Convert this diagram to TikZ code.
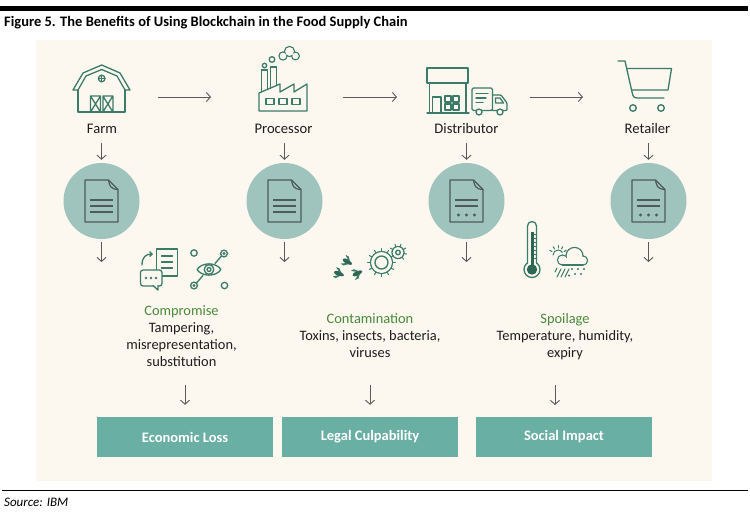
\documentclass[tikz,border=0pt]{standalone}
\usepackage{fontspec}
\setmainfont{Carlito}
\usetikzlibrary{arrows.meta}
\definecolor{bgc}{HTML}{FCF7EF}
\definecolor{icc}{HTML}{3C7A6A}
\definecolor{icdark}{HTML}{2C6655}
\definecolor{circc}{HTML}{9FC4BD}
\definecolor{docc}{HTML}{4E5B58}
\definecolor{boxc}{HTML}{6AAFA4}
\definecolor{grn}{HTML}{4A8A3A}
\definecolor{arrc}{HTML}{5A5A5A}
\definecolor{txt}{HTML}{1E1E1E}
\tikzset{
  arr/.style={draw=arrc, line width=0.9pt, -{Straight Barb[length=4pt,width=9pt]}},
  ic/.style={draw=icc, line width=1.3pt, line join=round, line cap=round},
  dl/.style={draw=docc, line width=1.2pt, line join=round},
  lbl/.style={font=\fontsize{14.6}{17}\selectfont, text=txt, inner sep=0pt, anchor=base},
  mid/.style={font=\fontsize{14.4}{17}\selectfont, text=txt, inner sep=0pt, anchor=base},
  midg/.style={mid, text=grn},
  docnode/.style={circle, fill=circc, minimum size=76pt, inner sep=0pt},
  boxnode/.style={fill=boxc, minimum width=176pt, minimum height=40pt, inner sep=0pt,
     text=white, font=\fontsize{14.5}{17}\selectfont\bfseries},
  docA/.pic={
    \draw[dl] (-16.5,-21) -- (7,-21) -- (16.5,-11.5) -- (16.5,21) -- (-16.5,21) -- cycle;
    \draw[dl] (7,-21) .. controls (8,-15) and (9,-12) .. (16.5,-11.5);
    \draw[dl] (-11.5,-1) -- (11.5,-1) (-11.5,5) -- (11.5,5) (-11.5,11) -- (11.5,11);
  },
  docB/.pic={
    \draw[dl] (-16.5,-21) -- (7,-21) -- (16.5,-11.5) -- (16.5,21) -- (-16.5,21) -- cycle;
    \draw[dl] (7,-21) .. controls (8,-15) and (9,-12) .. (16.5,-11.5);
    \draw[dl] (-11.5,-1) -- (11.5,-1) (-11.5,5) -- (11.5,5);
    \fill[docc] (-8,14) circle (1.6) (0,14) circle (1.6) (8,14) circle (1.6);
  },
  fly/.pic={
    \fill[icdark] (0,0) ellipse (4.8 and 2.3);
    \fill[icdark] (4.2,0) circle (1.6);
    \fill[icc] (0.5,-1.5) -- (-4.5,-5) -- (-1,-5.2) -- (2.5,-1.5) -- cycle;
    \fill[icc] (0.5,1.5) -- (-4.5,5) -- (-1,5.2) -- (2.5,1.5) -- cycle;
  }
}
\begin{document}
\begin{tikzpicture}[x=1pt,y=-1pt]
\useasboundingbox (0,0) rectangle (750,514);
\fill[white] (0,0) rectangle (750,514);
\fill[bgc] (36,40) rectangle (712,481);
\fill[black] (0,6) rectangle (748,11);
\draw[black, line width=1.5pt] (2,490.5) -- (748,490.5);

% title and source
\node[font=\fontsize{14.5}{17}\selectfont\bfseries, text=black, inner sep=0pt, anchor=base west] (title) at (4,27) {Figure 5. The Benefits of Using Blockchain in the Food Supply Chain};
\node[font=\fontsize{13}{15}\selectfont\itshape, text=black, inner sep=0pt, anchor=base west] (src) at (4,506.5) {Source: IBM};

% ---------- Barn ----------
\draw[ic] (73,90) -- (83,73) -- (101.7,65) -- (120,73) -- (130,90) -- (125,90) -- (117,76) -- (101.7,69.5) -- (86,76) -- (78,90) -- cycle;
\draw[ic] (78,90) -- (78,112) -- (125,112) -- (125,90);
\draw[ic] (101.7,78.5) circle (3.3);
\draw[ic] (98.4,78.5) -- (105,78.5) (101.7,75.2) -- (101.7,81.8);
\draw[ic] (90.5,96) rectangle (100.5,112) (90.5,96) -- (100.5,112) (100.5,96) -- (90.5,112);
\draw[ic] (102.9,96) rectangle (112.9,112) (102.9,96) -- (112.9,112) (112.9,96) -- (102.9,112);

% ---------- Factory ----------
\draw[ic] (259,111) -- (259,93) -- (280,84) -- (280,92) -- (294,84) -- (294,92) -- (307,84) -- (307,111) -- cycle;
\draw[ic] (261.5,92) -- (261.5,70) -- (267.5,70) -- (267.5,89.5);
\draw[ic] (270.5,88.2) -- (270.5,67) -- (276.5,67) -- (276.5,85.6);
\draw[ic] (266,98.5) rectangle (274,104.5) (279,98.5) rectangle (287,104.5) (292,98.5) rectangle (300,104.5);
\draw[ic] (264.5,65.5) circle (2.2);
\draw[ic] (272,59.5) circle (2.8);
\draw[ic] (283,56) circle (4) (289.5,51.5) circle (5) (295.5,56) circle (3.8);
\fill[bgc] (283,56) circle (3.3) (289.5,51.5) circle (4.3) (295.5,56) circle (3.1);

% ---------- Distributor ----------
\draw[ic] (427,68) rectangle (468,83);
\draw[ic] (429.5,83) -- (429.5,113) (466,83) -- (466,113) (427,113) -- (469,113);
\draw[ic] (432.5,113) -- (432.5,97) -- (441,97) -- (441,113);
\draw[ic] (445,96) rectangle (451,102) (453,96) rectangle (459,102) (445,104) rectangle (451,110) (453,104) rectangle (459,110);
\draw[ic, rounded corners=1.5pt] (472,88) rectangle (492.5,110.5);
\draw[ic] (476,93.5) -- (488,93.5) (476,98) -- (486,98) (476,102.5) -- (483,102.5);
\draw[ic, rounded corners=1pt] (492.5,95) -- (501,95) -- (507,103) -- (507,110.5) -- (492.5,110.5);
\draw[ic] (495.5,98) -- (500,98) -- (503.5,103) -- (495.5,103) -- cycle;
\draw[ic, fill=bgc] (479,112) circle (3) (500,112) circle (3);

% ---------- Cart ----------
\draw[ic] (618,61) -- (625,61) -- (632,92) .. controls (633,97) and (634,98) .. (638,98) -- (664,98);
\draw[ic] (627.5,68.5) -- (671.5,68.5) -- (668,90) -- (631.5,90);
\draw[ic] (633,108) circle (3.3) (661,108) circle (3.3);

% ---------- top labels ----------
\node[lbl] (farm) at (102,133) {Farm};
\node[lbl] (proc) at (283.5,133) {Processor};
\node[lbl] (dist) at (466.5,133) {Distributor};
\node[lbl] (ret) at (647.5,133) {Retailer};

% horizontal arrows
\coordinate (h1s) at (158,97); \coordinate (h1e) at (211,97);
\coordinate (h2s) at (343,97); \coordinate (h2e) at (397,97);
\coordinate (h3s) at (530,97); \coordinate (h3e) at (583,97);
\draw[arr] (h1s) -- (h1e);
\draw[arr] (h2s) -- (h2e);
\draw[arr] (h3s) -- (h3e);

% circles with documents
\node[docnode] (c1) at (101.5,201) {};
\node[docnode] (c2) at (284.5,201) {};
\node[docnode] (c3) at (466.5,201) {};
\node[docnode] (c4) at (648.5,201) {};
\pic at (101.5,201) {docA};
\pic at (284.5,201) {docA};
\pic at (466.5,201) {docB};
\pic at (648.5,201) {docB};

% down arrows label -> circle
\draw[arr] ([yshift=-10pt]farm.south -| c1) -- ([yshift=3pt]c1.north);
\draw[arr] ([yshift=-10pt]proc.south -| c2) -- ([yshift=3pt]c2.north);
\draw[arr] ([yshift=-10pt]dist.south -| c3) -- ([yshift=3pt]c3.north);
\draw[arr] ([yshift=-10pt]ret.south -| c4) -- ([yshift=3pt]c4.north);

% down arrows below circles
\coordinate (d1) at (101.5,262); \coordinate (d2) at (284.5,262);
\coordinate (d3) at (466.5,262); \coordinate (d4) at (648.5,262);
\draw[arr] ([yshift=-3pt]c1.south) -- (d1);
\draw[arr] ([yshift=-3pt]c2.south) -- (d2);
\draw[arr] ([yshift=-3pt]c3.south) -- (d3);
\draw[arr] ([yshift=-3pt]c4.south) -- (d4);

% ---------- Compromise icons ----------
\draw[ic, fill=bgc] (156.5,249) rectangle (177.5,276);
\draw[ic] (161.5,256) -- (172.5,256) (161.5,262) -- (172.5,262) (161.5,268) -- (172.5,268);
\draw[ic, fill=bgc, rounded corners=2.5pt] (158,286) -- (162,286) -- (162,270) -- (140.5,270) -- (140.5,286) -- (153,286);
\draw[ic, fill=bgc] (153,285.5) -- (158,290) -- (158,285.5);
\fill[icc] (146,278) circle (1.3) (151,278) circle (1.3) (156,278) circle (1.3);
\draw[ic, -{Straight Barb[length=2.5pt,width=5pt]}] (142,265) .. controls (142,257) and (146,254) .. (153,254);
% eye network
\draw[ic] (197,269.5) .. controls (202,262) and (216,262) .. (221,269.5) .. controls (216,277) and (202,277) .. (197,269.5) -- cycle;
\draw[ic] (209,269.5) circle (4.8);
\draw[ic] (209,269.5) circle (2);
\draw[ic] (221.5,256) -- (215,263.5);
\draw[ic] (196.5,283) -- (203,275.5);
\draw[ic] (194,253) circle (3.2);
\draw[ic] (224,253.5) circle (3.4);
\fill[icc] (224,253.5) circle (1.6);
\draw[ic] (194,285.5) circle (3.4);
\fill[icc] (194,285.5) circle (1.6);
\draw[ic] (224.5,285.5) circle (3.2);

% ---------- Contamination icons ----------
\pic[rotate=-30] at (347,261.5) {fly};
\pic[rotate=-20] at (338.5,273.5) {fly};
\pic[rotate=25] at (357,273.5) {fly};
\foreach \a in {0,30,...,330} {\draw[ic, line width=1pt] (381.5,262.5) ++(\a:11) -- ++(\a:3);}
\foreach \a in {-150,-110,-70,-30,10,50} {\draw[ic, line width=1pt] (398,252.5) ++(\a:6) -- ++(\a:2.8);}
\draw[ic] (381.5,262.5) circle (11) (398,252.5) circle (6);
\fill[bgc] (381.5,262.5) circle (10.3) (398,252.5) circle (5.3);
\draw[ic] (381.5,262.5) circle (6.5);
\draw[ic] (398,252.5) circle (2.3);

% ---------- Spoilage icons ----------
\draw[ic] (532,269.5) circle (8);
\fill[bgc] (528.3,257) rectangle (535.7,264.5);
\draw[ic] (527.5,263) -- (527.5,226) arc[start angle=180, end angle=360, radius=4.5] -- (536.5,263);
\fill[icdark] (532,269.5) circle (5.2);
\fill[icdark] (530.5,232) rectangle (533.5,266);
\draw[icc, line width=0.6pt] (534,234) -- (536,234) (534,238) -- (536,238) (534,242) -- (536,242) (534,246) -- (536,246) (534,250) -- (536,250) (534,254) -- (536,254) (534,258) -- (536,258);
% sun + cloud
\draw[ic, line width=1pt] (553,255) arc[start angle=180, end angle=330, radius=5];
\foreach \a in {150,120,90,60,30} {\draw[ic, line width=1pt] (558,255) ++(-\a:7) -- ++(-\a:2.5);}
\draw[ic] (562.5,260) circle (5) (574.5,256) circle (8.5) (583,260.5) circle (4.5);
\fill[bgc] (562.5,260) circle (4.3) (574.5,256) circle (7.8) (583,260.5) circle (3.8);
\fill[bgc] (562.5,258) rectangle (583,264.3);
\draw[ic] (562.5,265) -- (583,265);
\draw[ic, line width=1pt] (557,277) -- (561,269) (561,277) -- (565,269) (565,277) -- (569,269) (555,272) -- (557,268);
\fill[icc] (572,269) circle (1.1) (578,269) circle (1.1) (584,269) circle (1.1) (575,274) circle (1.1) (581,274) circle (1.1) (569,275.5) circle (1.1);

% ---------- middle texts ----------
\node[midg] (t1) at (181.5,315) {Compromise};
\node[mid] (t1a) at (181.5,332) {Tampering,};
\node[mid] (t1b) at (181.5,349) {misrepresentation,};
\node[mid] (t1c) at (181.5,366) {substitution};
\node[midg] (t2) at (370,323.5) {Contamination};
\node[mid] (t2a) at (370,340.5) {Toxins, insects, bacteria,};
\node[mid] (t2b) at (370,357.5) {viruses};
\node[midg] (t3) at (565,323.5) {Spoilage};
\node[mid] (t3a) at (565,340.5) {Temperature, humidity,};
\node[mid] (t3b) at (565,357.5) {expiry};

% ---------- boxes ----------
\node[boxnode] (b1) at (185,437) {Economic Loss};
\node[boxnode] (b2) at (370,437) {Legal Culpability};
\node[boxnode] (b3) at (564,437) {Social Impact};

\coordinate (e1) at (185,385); \coordinate (e2) at (370,385); \coordinate (e3) at (555,385);
\coordinate (f3) at (555,405);
\draw[arr] (e1) -- ([yshift=12pt]b1.north);
\draw[arr] (e2) -- ([yshift=12pt]b2.north);
\draw[arr] (e3) -- (f3);
\end{tikzpicture}
\end{document}
